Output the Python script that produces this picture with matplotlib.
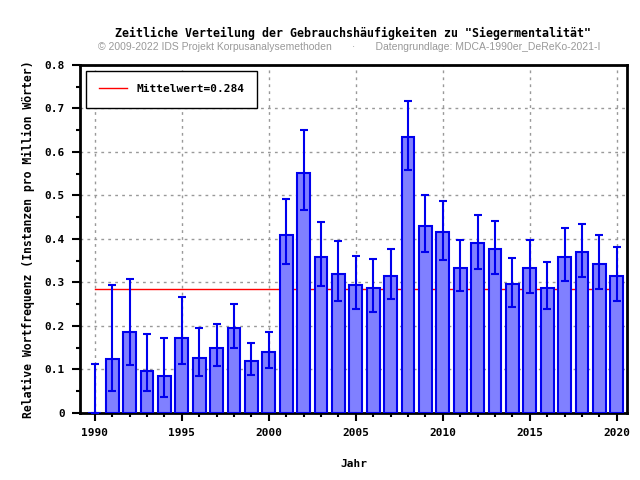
import numpy as np
import matplotlib
matplotlib.use("Agg")
import matplotlib.pyplot as plt
from matplotlib.ticker import MultipleLocator

# values
years = list(range(1990, 2021))
freq = [0.0, 0.124, 0.185, 0.095, 0.084, 0.173, 0.127, 0.148, 0.194, 0.118,
        0.139, 0.408, 0.552, 0.358, 0.318, 0.293, 0.286, 0.314, 0.634, 0.429,
        0.415, 0.334, 0.390, 0.376, 0.295, 0.332, 0.288, 0.358, 0.369, 0.341,
        0.314]
err_low = [0.0, 0.051, 0.109, 0.049, 0.037, 0.112, 0.084, 0.107, 0.148, 0.086,
           0.104, 0.341, 0.467, 0.292, 0.256, 0.238, 0.232, 0.262, 0.559, 0.369,
           0.352, 0.279, 0.331, 0.320, 0.244, 0.276, 0.239, 0.302, 0.313, 0.285,
           0.258]
err_high = [0.113, 0.293, 0.307, 0.182, 0.173, 0.267, 0.194, 0.203, 0.251, 0.161,
            0.185, 0.491, 0.651, 0.438, 0.394, 0.360, 0.353, 0.376, 0.716, 0.500,
            0.488, 0.398, 0.454, 0.442, 0.355, 0.397, 0.346, 0.424, 0.435, 0.408,
            0.382]
mean_value = 0.284

mono = "DejaVu Sans Mono"

fig = plt.figure(figsize=(6.4, 4.8), dpi=100)
ax = fig.add_axes([0.125, 0.140, 0.855, 0.725])

freq_arr = np.array(freq)
yerr = [freq_arr - np.array(err_low), np.array(err_high) - freq_arr]

ax.bar(years, freq, width=0.74, color="#8080ff", edgecolor="#0000ee",
       linewidth=1.5, zorder=3)
ax.errorbar(years, freq, yerr=yerr, fmt="none", ecolor="#0000ee",
            elinewidth=1.5, capsize=3, capthick=1.5, zorder=4)
ax.plot([years[0], years[-1]], [mean_value, mean_value], color="red",
        linewidth=1, zorder=2, label="Mittelwert=0.284")

ax.set_xlim(1989.15, 2020.6)
ax.set_ylim(0, 0.8)
ax.xaxis.set_major_locator(MultipleLocator(5))
ax.xaxis.set_minor_locator(MultipleLocator(1))
ax.yaxis.set_minor_locator(MultipleLocator(0.05))
ax.set_yticks(np.arange(0, 0.81, 0.1))
ax.set_yticklabels(["0"] + ["%.1f" % v for v in np.arange(0.1, 0.81, 0.1)])

ax.tick_params(which="major", direction="out", length=6, width=1.5,
               labelsize=8, pad=5)
ax.tick_params(which="minor", direction="out", length=3, width=1.5)
for lab in ax.get_xticklabels() + ax.get_yticklabels():
    lab.set_fontfamily(mono)
    lab.set_fontweight("bold")

ax.grid(True, which="major", color="#999999", linestyle=(0, (2, 3)),
        linewidth=1, zorder=0)
for s in ax.spines.values():
    s.set_linewidth(2)

ax.set_xlabel("Jahr", fontfamily=mono, fontweight="bold", fontsize=8,
              labelpad=15)
ax.set_ylabel("Relative Wortfrequenz (Instanzen pro Million Wörter)",
              fontfamily=mono, fontweight="bold", fontsize=8.3, labelpad=7)

leg = ax.legend(loc="upper left", prop={"family": mono, "weight": "bold",
                                        "size": 8},
                fancybox=False, framealpha=1, edgecolor="black",
                handlelength=2.5, borderpad=1.2, borderaxespad=0.55)
leg.get_frame().set_linewidth(1)

fig.text(0.552, 0.931,
         'Zeitliche Verteilung der Gebrauchshäufigkeiten zu "Siegermentalität"',
         ha="center", va="center", fontfamily=mono, fontweight="bold",
         fontsize=8.4)
fig.text(0.545, 0.902,
         "© 2009-2022 IDS Projekt Korpusanalysemethoden       ·       "
         "Datengrundlage: MDCA-1990er_DeReKo-2021-I",
         ha="center", va="center", fontfamily="Liberation Sans",
         fontsize=7.5, color="#999999")

fig.savefig("out.png", dpi=100)
